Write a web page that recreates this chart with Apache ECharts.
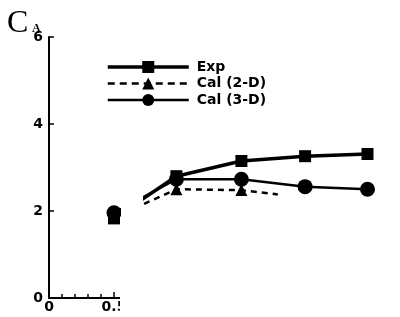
<!DOCTYPE html>
<html><head><meta charset="utf-8">
<script src="https://cdn.jsdelivr.net/npm/echarts@6/dist/echarts.min.js"></script>
<style>html,body{margin:0;padding:0;background:#fff}#c{width:400px;height:317px}</style>
</head><body><div id="c"></div>
<script>
const seriesNames = ['Exp', 'Cal (2-D)', 'Cal (3-D)'];
const expX = [0.5, 0.98, 1.48, 1.97, 2.45];
const expY = [1.83, 2.8, 3.15, 3.26, 3.31];
const cal2dX = [0.5, 0.98, 1.48, 1.76];
const cal2dY = [1.85, 2.5, 2.48, 2.38];
const cal3dX = [0.5, 0.98, 1.48, 1.97, 2.45];
const cal3dY = [1.96, 2.73, 2.73, 2.56, 2.5];
const xTickLabels = [0, 0.5];
const xMinorTicks = [0.1, 0.2, 0.3, 0.4];
const yTickLabels = [0, 2, 4, 6];

const zip = (xs, ys) => xs.map((x, i) => [x, ys[i]]);
const cal2dData = zip(cal2dX, cal2dY).map((p, i) => i === cal2dX.length - 1 ? {value: p, symbol: 'none'} : p);

const chart = echarts.init(document.getElementById('c'));
const labelFont = {color: '#000', fontWeight: 'bold', fontSize: 14, fontFamily: 'DejaVu Sans'};
chart.setOption({
  animation: false,
  backgroundColor: '#fff',
  grid: {left: 49, top: 37, width: 338, height: 261},
  xAxis: [{
    type: 'value', min: 0, max: 2.6,
    axisLine: {lineStyle: {color: '#000', width: 2}},
    axisTick: {inside: true, length: 6, lineStyle: {color: '#000', width: 1.5}, customValues: xTickLabels},
    axisLabel: Object.assign({margin: 2, customValues: xTickLabels, formatter: v => String(v)}, labelFont),
    splitLine: {show: false}
  }, {
    type: 'value', min: 0, max: 2.6, position: 'bottom',
    axisLine: {show: false},
    axisTick: {inside: true, length: 4, lineStyle: {color: '#000', width: 1.5}, customValues: xMinorTicks},
    axisLabel: {show: false},
    splitLine: {show: false}
  }],
  yAxis: {
    type: 'value', min: 0, max: 6, interval: 2,
    axisLine: {show: true, lineStyle: {color: '#000', width: 2}},
    axisTick: {show: true, inside: true, length: 5, lineStyle: {color: '#000', width: 1.5}},
    axisLabel: Object.assign({margin: 6, customValues: yTickLabels}, labelFont),
    splitLine: {show: false}
  },
  legend: {
    orient: 'vertical', left: 101, top: 55, itemWidth: 81, itemHeight: 15, itemGap: 2.5,
    textStyle: {color: '#000', fontWeight: 'bold', fontSize: 14, fontFamily: 'DejaVu Sans', padding: [0, 0, 0, 3]},
    data: [
      {name: seriesNames[0], lineStyle: {width: 3.5, color: '#000'}},
      {name: seriesNames[1], lineStyle: {width: 2.5, color: '#000', type: [7, 5]}},
      {name: seriesNames[2], lineStyle: {width: 2.5, color: '#000'}}
    ]
  },
  series: [{
    name: seriesNames[0], type: 'line', data: zip(expX, expY), clip: false,
    symbol: 'rect', symbolSize: 12, itemStyle: {color: '#000'},
    lineStyle: {color: '#000', width: 3.5}, z: 3
  }, {
    name: seriesNames[1], type: 'line', data: cal2dData, clip: false,
    symbol: 'triangle', symbolSize: 12, itemStyle: {color: '#000'},
    lineStyle: {color: '#000', width: 2.5, type: [6, 5]}, z: 2
  }, {
    name: seriesNames[2], type: 'line', data: zip(cal3dX, cal3dY), clip: false,
    symbol: 'circle', symbolSize: 15, itemStyle: {color: '#000'},
    lineStyle: {color: '#000', width: 2.5}, z: 2
  }],
  graphic: [
    {type: 'rect', left: 121, top: 186, shape: {width: 22, height: 131}, style: {fill: '#fff'}, z: 100},
    {type: 'rect', left: 120, top: 296, shape: {width: 280, height: 21}, style: {fill: '#fff'}, z: 100},
    {type: 'text', left: 7, top: 8, style: {text: 'C', font: '32px "Liberation Serif"', fill: '#000'}, z: 101},
    {type: 'text', left: 32, top: 23, style: {text: 'A', font: 'bold 12px "Liberation Serif"', fill: '#000'}, z: 101}
  ]
});
</script></body></html>
